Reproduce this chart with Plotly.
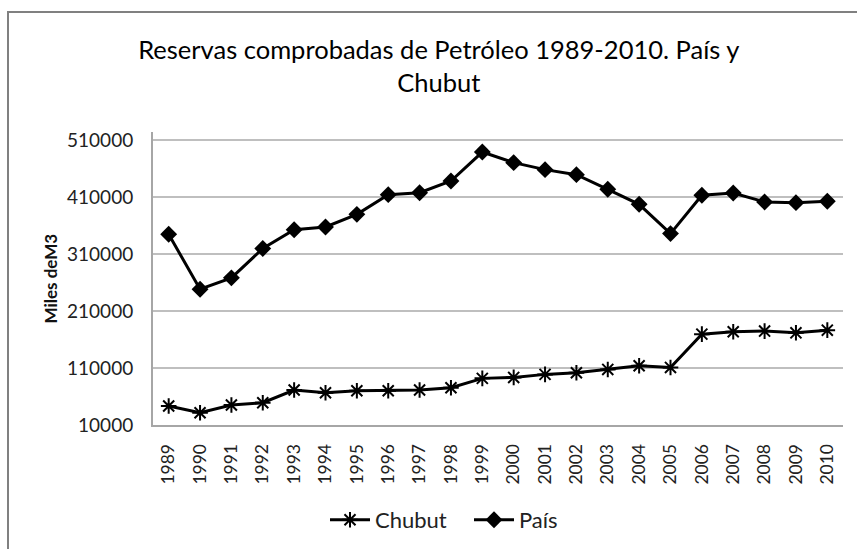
import plotly.graph_objects as go

years = [str(y) for y in range(1989, 2011)]
chubut = [43300, 31600, 45100, 49100, 71400, 66700, 70200, 70200, 71400, 75500, 91900,
          93600, 98900, 101800, 107600, 114100, 111100, 169600, 173700, 174900, 171900, 176600]
pais = [345000, 248500, 268400, 320000, 353000, 357800, 380000, 414600, 418000, 438500, 489400,
        470800, 458500, 449700, 424000, 397600, 346200, 413400, 417500, 401700, 400500, 402900]
y_ticks = [10000, 110000, 210000, 310000, 410000, 510000]

title_text = "Reservas comprobadas de Petróleo 1989-2010. País y<br>Chubut"
y_title = "Miles deM3"

W, H = 857, 549
L, R, T, B = 153, 14, 132, 124
pw, ph = W - L - R, H - T - B

def px_x(x):
    return (x - L) / pw

def px_y(y):
    return (H - B - y) / ph

FONT = "Lato"

fig = go.Figure()
fig.add_trace(go.Scatter(
    x=years, y=chubut, name="Chubut", mode="lines+markers",
    line=dict(color="black", width=3),
    marker=dict(symbol="asterisk-open", size=13, color="black", line=dict(color="black", width=2)),
))
fig.add_trace(go.Scatter(
    x=years, y=pais, name="País", mode="lines+markers",
    line=dict(color="black", width=3),
    marker=dict(symbol="diamond", size=13, color="black"),
))

fig.update_layout(
    width=W, height=H,
    margin=dict(l=L, r=R, t=T, b=B, autoexpand=False),
    paper_bgcolor="white", plot_bgcolor="white",
    font=dict(family=FONT, color="#222222"),
    title=dict(text=title_text, x=0.512, xanchor="center", xref="container",
               y=1 - 59 / H, yanchor="top", yref="container",
               font=dict(family=FONT, size=25.5, color="#000000")),
    showlegend=True,
    legend=dict(orientation="h", x=px_x(469), xanchor="center", y=px_y(520), yanchor="middle",
                font=dict(family=FONT, size=22, color="#222222"), itemwidth=40,
                entrywidth=89, entrywidthmode="pixels",
                bgcolor="rgba(0,0,0,0)"),
    xaxis=dict(type="category", range=[-0.5, len(years) - 0.5], tickangle=-90,
               showgrid=False, showline=True, linecolor="#a6a6a6", linewidth=2,
               ticks="", tickfont=dict(family=FONT, size=17.5, color="#222222"),
               ticklabelstandoff=10, fixedrange=True),
    yaxis=dict(range=[10000, 524600], tickvals=y_ticks, ticktext=[str(v) for v in y_ticks],
               showgrid=True, gridcolor="#bfbfbf", gridwidth=1.5,
               showline=True, linecolor="#a6a6a6", linewidth=2, zeroline=False,
               ticks="", tickfont=dict(family=FONT, size=19, color="#222222"),
               ticklabelstandoff=14, fixedrange=True),
    annotations=[dict(text="<b>" + y_title + "</b>", x=px_x(50), y=0.5, xref="paper", yref="paper",
                      xanchor="center", yanchor="middle", textangle=-90, showarrow=False,
                      font=dict(family=FONT, size=17, color="#111111"))],
    shapes=[dict(type="rect", xref="paper", yref="paper",
                 x0=px_x(8), x1=px_x(880), y0=px_y(600), y1=px_y(12),
                 line=dict(color="#808080", width=2), fillcolor="rgba(0,0,0,0)", layer="below")],
)

fig.write_html("out.html", config=dict(displayModeBar=False),
               post_script="document.body.style.margin='0';document.body.style.overflow='hidden';")
